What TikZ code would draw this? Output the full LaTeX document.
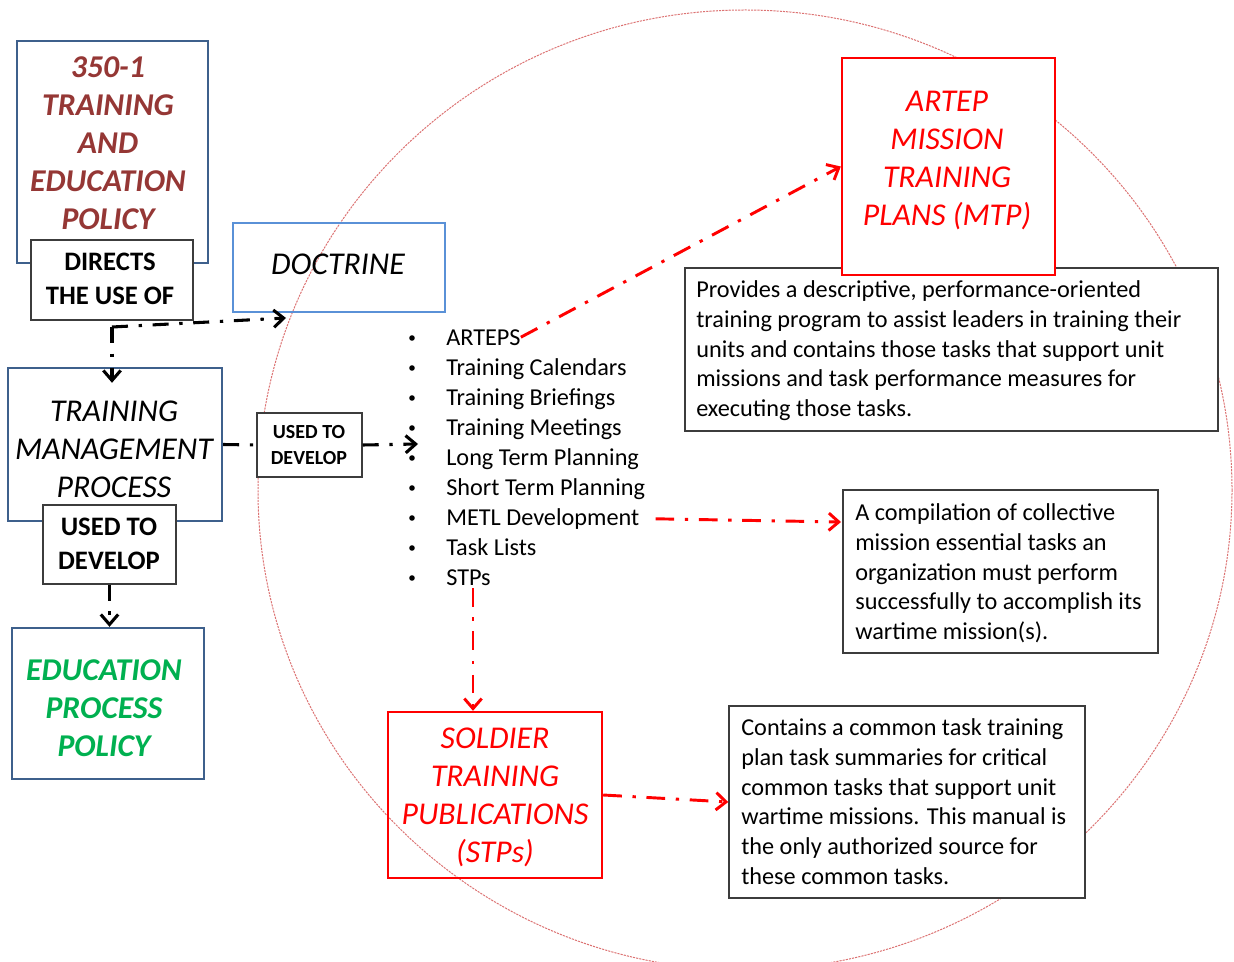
\documentclass[tikz,border=0pt]{standalone}
\usepackage{fontspec}
\setmainfont{Carlito}
\usetikzlibrary{arrows.meta,fit}
\definecolor{boxblue}{RGB}{62,96,140}
\definecolor{docblue}{RGB}{90,145,215}
\definecolor{polred}{RGB}{149,55,53}
\definecolor{edugreen}{RGB}{0,176,80}
\definecolor{txtgray}{RGB}{60,60,60}
\definecolor{circred}{RGB}{220,115,115}
\newcommand\fBig{\fontsize{23.8}{28.5}\selectfont}
\newcommand\fLab{\fontsize{20}{25.5}\selectfont}
\newcommand\fMid{\fontsize{15}{18.8}\selectfont}
\newcommand\fTxt{\fontsize{18.2}{22.3}\selectfont}
\newcommand\firstln{\rule{0pt}{13pt}}
\begin{document}
\begin{tikzpicture}[x=0.75pt,y=-0.75pt,
  bluebox/.style={draw=boxblue, line width=1.8pt, inner sep=0pt},
  docbox/.style={draw=docblue, line width=1.8pt, inner sep=0pt},
  labbox/.style={draw=txtgray, fill=white, line width=1.1pt, inner sep=0pt},
  redbox/.style={draw=red, line width=1.8pt, inner sep=0pt},
  txtbox/.style={draw=txtgray, fill=white, line width=1.1pt, inner sep=0pt},
  bigtxt/.style={align=center, font=\fBig\itshape, inner sep=0pt},
  labtxt/.style={align=center, font=\fLab\bfseries, inner sep=0pt},
  para/.style={align=left, anchor=north west, font=\fTxt, inner sep=0pt},
  item/.style={anchor=base west, font=\fTxt, inner sep=0pt},
  blk/.style={line width=2.3pt, dash pattern=on 12pt off 8pt on 2.5pt off 8pt,
    -{Straight Barb[length=7.5pt,width=13pt]}},
  redarr/.style={red, line width=2.2pt, dash pattern=on 14pt off 8pt on 2.5pt off 8pt,
    -{Straight Barb[length=7.5pt,width=13pt]}},
  circ/.style={circred, line width=0.75pt, dash pattern=on 1.6pt off 0.8pt}
]
\useasboundingbox (0,0) rectangle (1234,962);
\clip (0,0) rectangle (1234,962);
\draw[circ] (745,490) ellipse [x radius=487, y radius=480];

\node[bluebox, fit={(17,41)(208,263)}] (pol) {};
\node[bigtxt, font=\fBig\bfseries\itshape, text=polred] (polt) at (108,143) {350-1\\TRAINING\\AND\\EDUCATION\\POLICY};
\node[labbox, fit={(31,240)(193,320)}] (dir) {};
\node[labtxt] (dirt) at (110,279) {DIRECTS\\THE USE OF};
\node[docbox, fit={(233,223)(445,312)}] (doc) {};
\node[bigtxt] (doct) at (338,264) {DOCTRINE};
\node[bluebox, fit={(8,368)(222,521)}] (tmp) {};
\node[bigtxt] (tmpt) at (114,449) {TRAINING\\MANAGEMENT\\PROCESS};
\node[labbox, fit={(43,505)(176,584)}] (ud) {};
\node[labtxt] (udt) at (109,544) {USED TO\\DEVELOP};
\node[bluebox, fit={(12,628)(204,779)}] (edu) {};
\node[bigtxt, font=\fBig\bfseries\itshape, text=edugreen] (edut) at (104,708) {EDUCATION\\PROCESS\\POLICY};
\node[labbox, fit={(257,413)(362,477)}] (mid) {};
\node[labtxt, font=\fMid\bfseries] (midt) at (309,445) {USED TO\\DEVELOP};

\node[txtbox, fit={(685,268)(1218,431)}] (tb1) {};
\node[redbox, fill=white, fit={(842,58)(1055,275)}] (artep) {};
\node[bigtxt, text=red] (artept) at (947,161) {ARTEP\\MISSION\\TRAINING\\PLANS (MTP)};
\node[para] (tb1t) at (696,280) {\firstln Provides a descriptive, performance-oriented\\training program to assist leaders in training their\\units and contains those tasks that support unit\\missions and task performance measures for\\executing those tasks.};
\node[txtbox, fit={(843,490)(1158,653)}] (tb2) {};
\node[para] (tb2t) at (855,503) {\firstln A compilation of collective\\mission essential tasks an\\organization must perform\\successfully to accomplish its\\wartime mission(s).};
\node[redbox, fit={(388,712)(602,878)}] (sold) {};
\node[bigtxt, text=red] (soldt) at (495,797) {SOLDIER\\TRAINING\\PUBLICATIONS\\(STPs)};
\node[txtbox, fit={(729,706)(1085,898)}] (tb3) {};
\node[para] (tb3t) at (741,718) {\firstln Contains a common task training\\plan task summaries for critical\\common tasks that support unit\\wartime missions. This manual is\\the only authorized source for\\these common tasks.};

\foreach \t [count=\k from 0] in {ARTEPS,Training Calendars,Training Briefings,Training Meetings,Long Term Planning,Short Term Planning,METL Development,Task Lists,STPs}{
  \node[item] (i\k) at (446,{345+30*\k}) {\t};
  \fill (412,{338+30*\k}) circle [radius=2.8];
}

\coordinate (dj) at (112,327);
\coordinate (docin) at (286,318);
\draw[blk] (dj) -- (docin);
\draw[blk, shorten >=-12pt] (dj) -- (dj |- tmp.north);
\coordinate (lin) at (418,444);
\draw[blk, -] (tmp.east) -- (mid.west);
\draw[blk] (mid.east) -- (lin);
\draw[blk] (ud.south) -- (ud.south |- edu.north);

\draw[redarr] (i0.east) -- (artep.west);
\coordinate (t2in) at (841,522);
\draw[redarr, shorten <=12pt] (i6.east) -- (t2in);
\coordinate (stx) at (473,600);
\draw[redarr, shorten <=2pt] (i8.south -| stx) -- (sold.north -| stx);
\draw[redarr] (sold.east) -- (tb3.west);
\end{tikzpicture}
\end{document}
